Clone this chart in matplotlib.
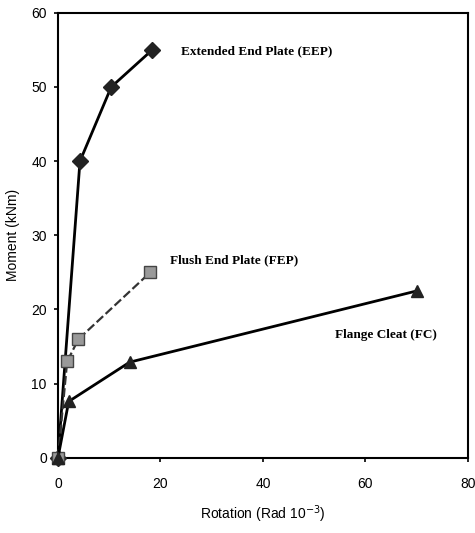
import matplotlib.pyplot as plt

# rotation (rad 10^-3) and moment (kNm) for each connection
eep_rot = [0, 4.3, 10.4, 18.4]
eep_mom = [0, 40, 50, 55]
fep_rot = [0, 1.8, 4.0, 18.0]
fep_mom = [0, 13, 16, 25]
fc_rot = [0, 2.1, 14.0, 70.0]
fc_mom = [0, 7.6, 12.9, 22.5]

fig = plt.figure(figsize=(4.75, 5.33), dpi=100)
ax = fig.add_axes([0.122, 0.141, 0.863, 0.835])

ax.plot(eep_rot, eep_mom, color='black', lw=2, marker='D', ms=8,
        mfc='#222222', mec='#222222', zorder=3, clip_on=False)
ax.plot(fep_rot, fep_mom, color='#333333', lw=1.6, ls=(0, (4, 1.5)), marker='s', ms=8,
        mfc='#999999', mec='#444444', zorder=3, clip_on=False)
ax.plot(fc_rot, fc_mom, color='black', lw=2, marker='^', ms=9,
        mfc='#222222', mec='#222222', zorder=3, clip_on=False)

serif = dict(family='Liberation Serif', fontsize=9.5, fontweight='bold')
ax.text(24, 54.8, 'Extended End Plate (EEP)', va='center', **serif)
ax.text(21.8, 26.6, 'Flush End Plate (FEP)', va='center', **serif)
ax.text(54, 16.6, 'Flange Cleat (FC)', va='center', **serif)

ax.set_xlim(0, 80)
ax.set_ylim(0, 60)
ax.set_xticks([0, 20, 40, 60, 80])
ax.set_yticks([0, 10, 20, 30, 40, 50, 60])
ax.tick_params(labelsize=10, length=3, width=1.2, direction='out')
ax.tick_params(axis='x', pad=11)
ax.tick_params(axis='y', pad=5)
for lab in ax.get_xticklabels() + ax.get_yticklabels():
    lab.set_family('Liberation Sans')
for s in ax.spines.values():
    s.set_linewidth(1.5)

ax.set_xlabel('Rotation (Rad 10$^{-3}$)', fontsize=10, family='Liberation Sans', labelpad=9)
ax.set_ylabel('Moment (kNm)', fontsize=10, family='Liberation Sans', labelpad=8)

fig.savefig('out.png', dpi=100)
